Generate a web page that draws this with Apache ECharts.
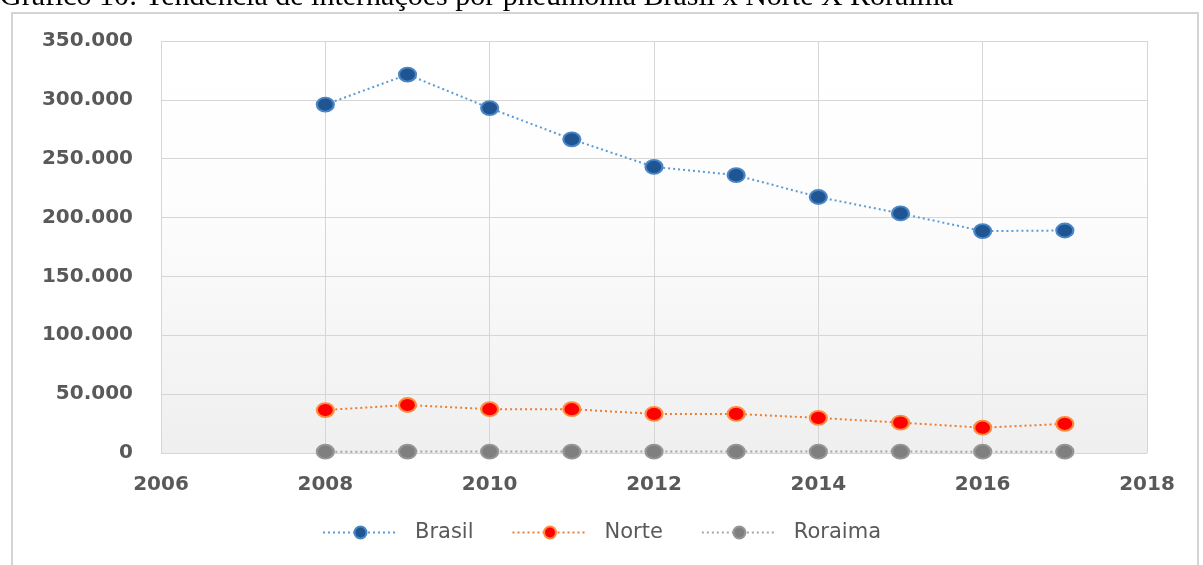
<!DOCTYPE html>
<html>
<head>
<meta charset="utf-8">
<script src="https://cdn.jsdelivr.net/npm/echarts@6/dist/echarts.min.js"></script>
<style>
  html, body { margin: 0; padding: 0; background: #fff; }
  #chart { width: 1203px; height: 565px; }
</style>
</head>
<body>
<div id="chart"></div>
<script>
// data
const years = [2008, 2009, 2010, 2011, 2012, 2013, 2014, 2015, 2016, 2017];
const brasil = [296000, 321500, 293000, 266500, 243000, 236000, 217500, 203500, 188500, 189000];
const norte = [36500, 40800, 37200, 37200, 33200, 33200, 29800, 25800, 21500, 24800];
const roraima = [1100, 1200, 1200, 1200, 1200, 1200, 1200, 1200, 1100, 1100];
const xTicks = [2006, 2008, 2010, 2012, 2014, 2016, 2018];
const yTicks = [0, 50000, 100000, 150000, 200000, 250000, 300000, 350000];

const titleText = 'Gráfico 10: Tendência de internações por pneumonia Brasil x Norte X Roraima';

function pairs(vals) {
    return years.map(function (y, i) { return [y, vals[i]]; });
}

function fmtThousands(v) {
    return String(v).replace(/\B(?=(\d{3})+(?!\d))/g, '.');
}

function mkSeries(name, vals, lineColor, dotColor, glow) {
    return {
        name: name,
        type: 'line',
        data: pairs(vals),
        symbol: 'circle',
        symbolSize: [17, 14],
        lineStyle: { color: lineColor, width: 2, type: [2, 3] },
        itemStyle: { color: dotColor, borderColor: glow, borderWidth: 2 },
        emphasis: { disabled: true },
        z: 3
    };
}

let chart = echarts.init(document.getElementById('chart'));

const option = {
    animation: false,
    backgroundColor: '#ffffff',
    textStyle: { fontFamily: 'DejaVu Sans' },
    graphic: [
        {
            type: 'rect',
            shape: { x: 12, y: 13, width: 1186, height: 560 },
            style: { fill: 'none', stroke: '#d4d4d4', lineWidth: 2 },
            z: -1
        },
        {
            type: 'text',
            left: 0,
            top: -18,
            style: {
                text: titleText,
                font: '30px "Liberation Serif"',
                fill: '#000'
            }
        }
    ],
    legend: {
        bottom: 17,
        left: 'center',
        itemWidth: 75,
        itemHeight: 15,
        itemGap: 38,
        textStyle: {
            color: '#595959',
            fontSize: 21,
            fontFamily: 'DejaVu Sans',
            padding: [0, 0, 0, 12]
        },
        data: ['Brasil', 'Norte', 'Roraima']
    },
    grid: {
        left: 161,
        right: 56,
        top: 41,
        bottom: 112,
        show: true,
        borderWidth: 0,
        backgroundColor: new echarts.graphic.LinearGradient(0, 0, 0, 1, [
            { offset: 0, color: '#ffffff' },
            { offset: 0.4, color: '#fdfdfd' },
            { offset: 1, color: '#efefef' }
        ])
    },
    xAxis: {
        type: 'value',
        min: xTicks[0],
        max: xTicks[xTicks.length - 1],
        interval: 2,
        axisLine: { show: false },
        axisTick: { show: false },
        splitLine: { show: true, lineStyle: { color: '#d6d6d6', width: 1 } },
        axisLabel: {
            margin: 22,
            color: '#595959',
            fontSize: 20,
            fontWeight: 'bold',
            formatter: function (v) { return String(v); }
        }
    },
    yAxis: {
        type: 'value',
        min: yTicks[0],
        max: yTicks[yTicks.length - 1],
        interval: 50000,
        axisLine: { show: false },
        axisTick: { show: false },
        splitLine: { show: true, lineStyle: { color: '#d6d6d6', width: 1 } },
        axisLabel: {
            margin: 28,
            color: '#595959',
            fontSize: 20,
            fontWeight: 'bold',
            formatter: fmtThousands
        }
    },
    series: [
        mkSeries('Brasil', brasil, '#5b9bd5', '#1f5592', '#4a86c5'),
        mkSeries('Norte', norte, '#ed7d31', '#ff0000', '#ff8c40'),
        mkSeries('Roraima', roraima, '#a5a5a5', '#7f7f7f', '#969696')
    ]
};

chart.setOption(option);
</script>
</body>
</html>
